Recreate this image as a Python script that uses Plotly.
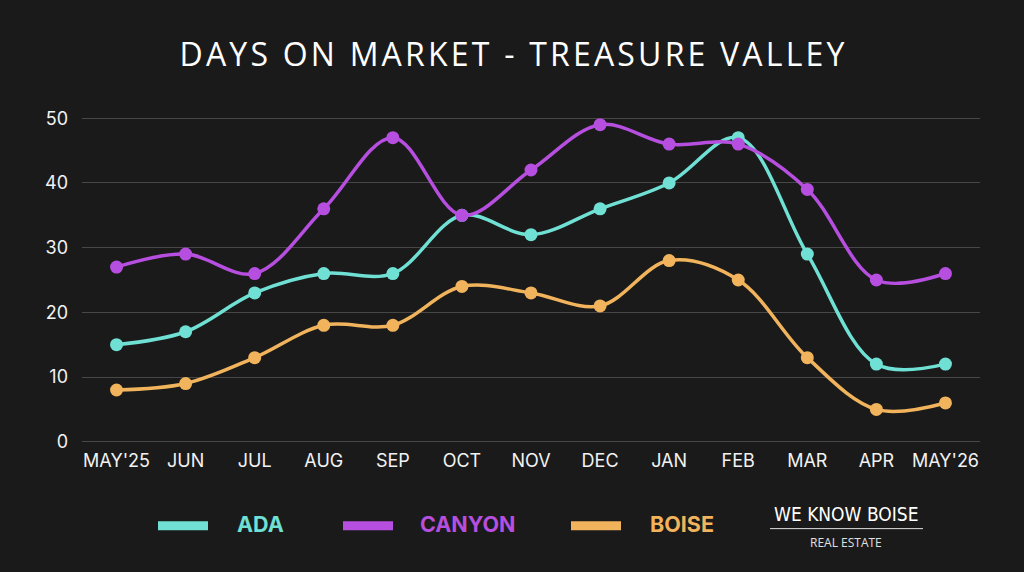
import plotly.graph_objects as go

months = ["MAY'25", "JUN", "JUL", "AUG", "SEP", "OCT", "NOV", "DEC", "JAN", "FEB", "MAR", "APR", "MAY'26"]
ada = [15, 17, 23, 26, 26, 35, 32, 36, 40, 47, 29, 12, 12]
canyon = [27, 29, 26, 36, 47, 35, 42, 49, 46, 46, 39, 25, 26]
boise = [8, 9, 13, 18, 18, 24, 23, 21, 28, 25, 13, 5, 6]
series_names = ["ADA", "CANYON", "BOISE"]
colors = ["#6fe0d3", "#b64fdf", "#f1b45c"]
y_ticks = [0, 10, 20, 30, 40, 50]
title_text = "DAYS ON MARKET - TREASURE VALLEY"

BG = "#1a1a1a"
FONT = "Inter, 'Noto Sans', sans-serif"

# plot area geometry (pixels): y=50 at 118, y=0 at 442
L, R, T, B = 82, 980, 118, 442
W, H = R - L, B - T
PAD = 0.5  # data units of padding so edge gridlines show
PADPX = PAD * H / 50
def px(x):
    return (x - L) / W
def py(y):
    return (B + PADPX - y) / (H + 2 * PADPX)

fig = go.Figure()
for name, vals, col in zip(series_names, [ada, canyon, boise], colors):
    fig.add_trace(go.Scatter(
        x=months, y=vals, name=name, mode="lines+markers",
        line=dict(color=col, width=3.5, shape="spline", smoothing=1.0),
        marker=dict(color=col, size=13),
        cliponaxis=False, showlegend=False,
    ))

spaced_title = "\u200a".join(list(title_text))

fig.update_layout(
    width=1024, height=572,
    paper_bgcolor=BG, plot_bgcolor=BG,
    margin=dict(l=L, r=1024 - R, t=T - PADPX, b=572 - B - PADPX),
    font=dict(family=FONT, color="#ffffff", size=18),
    title=dict(text=spaced_title, x=0.5, xanchor="center",
               y=1 - 55 / 572, yanchor="middle",
               font=dict(family="'Open Sans', sans-serif", size=32, color="#ffffff")),
    xaxis=dict(type="category", range=[-0.5, 12.5], showgrid=False, zeroline=False,
               showline=False, ticks="", tickfont=dict(size=18, color="#f2f2f2"),
               ticklabelstandoff=3, tickangle=0),
    yaxis=dict(range=[-PAD, 50 + PAD], tickvals=y_ticks, showgrid=True,
               gridcolor="#474747", gridwidth=1, zeroline=False, showline=False,
               ticks="", ticklabelstandoff=13, tickfont=dict(size=18, color="#f2f2f2")),
)

# custom legend
seg_x = [158, 343, 571]
txt_x = [235, 418, 648]
leg_y = 526
for sx, tx, name, col in zip(seg_x, txt_x, series_names, colors):
    fig.add_shape(type="line", xref="paper", yref="paper",
                  x0=px(sx), x1=px(sx + 50), y0=py(leg_y), y1=py(leg_y),
                  line=dict(color=col, width=9))
    fig.add_annotation(xref="paper", yref="paper", x=px(tx), y=py(leg_y - 2),
                       xanchor="left", yanchor="middle", showarrow=False,
                       text="<b>" + name + "</b>", font=dict(family=FONT, size=21.5, color=col))

# logo
fig.add_annotation(xref="paper", yref="paper", x=px(846), y=py(514),
                   xanchor="center", yanchor="middle", showarrow=False,
                   text="WE KNOW BOISE",
                   font=dict(family="'Liberation Sans Narrow', 'DejaVu Sans Condensed', sans-serif",
                             size=19, color="#ffffff"))
fig.add_shape(type="line", xref="paper", yref="paper",
              x0=px(770), x1=px(923), y0=py(529), y1=py(529),
              line=dict(color="#e0e0e0", width=1))
fig.add_annotation(xref="paper", yref="paper", x=px(846), y=py(542.5),
                   xanchor="center", yanchor="middle", showarrow=False,
                   text="REAL ESTATE",
                   font=dict(family="'Open Sans', sans-serif", size=12, color="#e0e0e0"))

fig.write_html("out.html")
